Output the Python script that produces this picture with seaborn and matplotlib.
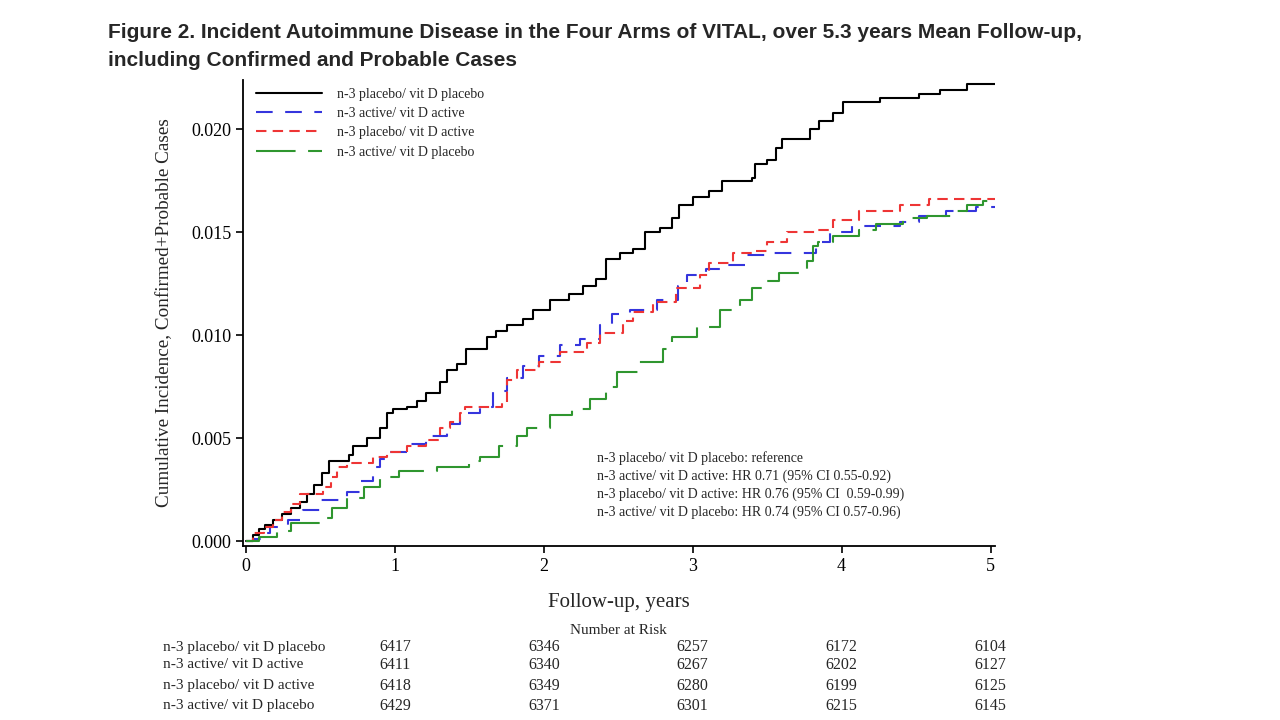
import matplotlib
matplotlib.use("Agg")
import matplotlib.pyplot as plt
import matplotlib.transforms as mtransforms
import pandas as pd
import seaborn as sns

# step points (time in years, cumulative incidence after the step)
t_pp = [0, 0.05, 0.09, 0.13, 0.18, 0.24, 0.30, 0.36, 0.41, 0.46, 0.51, 0.56, 0.69, 0.72, 0.81, 0.90,
        0.95, 0.99, 1.08, 1.15, 1.21, 1.30, 1.35, 1.42, 1.48, 1.62, 1.68, 1.75, 1.86, 1.93, 2.04, 2.17,
        2.26, 2.35, 2.42, 2.51, 2.60, 2.68, 2.78, 2.86, 2.91, 3.00, 3.11, 3.20, 3.40, 3.42, 3.50, 3.56,
        3.60, 3.79, 3.85, 3.94, 4.01, 4.26, 4.52, 4.66, 4.84, 5.03]
y_pp = [0, 0.0003, 0.0006, 0.0008, 0.0010, 0.0013, 0.0016, 0.0019, 0.0023, 0.0027, 0.0033, 0.0039, 0.0042,
        0.0046, 0.0050, 0.0055, 0.0062, 0.0064, 0.0065, 0.0068, 0.0072, 0.0077, 0.0083, 0.0086, 0.0093,
        0.0099, 0.0102, 0.0105, 0.0108, 0.0112, 0.0117, 0.0120, 0.0124, 0.0127, 0.0137, 0.0140, 0.0142,
        0.0150, 0.0152, 0.0157, 0.0163, 0.0167, 0.0170, 0.0175, 0.0176, 0.0183, 0.0185, 0.0191, 0.0195,
        0.0200, 0.0204, 0.0208, 0.0213, 0.0215, 0.0217, 0.0219, 0.0222, 0.0222]

t_aa = [0, 0.05, 0.10, 0.16, 0.28, 0.38, 0.50, 0.68, 0.77, 0.85, 0.90, 0.97, 1.08, 1.21, 1.35, 1.44,
        1.57, 1.66, 1.75, 1.86, 1.97, 2.11, 2.24, 2.38, 2.46, 2.58, 2.76, 2.90, 2.96, 3.09, 3.23, 3.35,
        3.50, 3.83, 3.92, 4.07, 4.39, 4.52, 4.70, 4.90, 5.03]
y_aa = [0, 0.0001, 0.0004, 0.0007, 0.0010, 0.0015, 0.0020, 0.0024, 0.0029, 0.0036, 0.0040, 0.0043,
        0.0047, 0.0051, 0.0057, 0.0062, 0.0065, 0.0073, 0.0079, 0.0085, 0.0090, 0.0095, 0.0098, 0.0105,
        0.0110, 0.0112, 0.0117, 0.0124, 0.0129, 0.0132, 0.0134, 0.0139, 0.0140, 0.0145, 0.0150, 0.0153,
        0.0155, 0.0158, 0.0160, 0.0162, 0.0162]

t_pa = [0, 0.05, 0.12, 0.18, 0.24, 0.30, 0.36, 0.52, 0.57, 0.61, 0.68, 0.85, 0.95, 1.08, 1.21, 1.30,
        1.37, 1.44, 1.47, 1.72, 1.75, 1.82, 1.97, 2.11, 2.29, 2.38, 2.53, 2.60, 2.73, 2.89, 3.05, 3.11,
        3.27, 3.40, 3.50, 3.63, 3.83, 3.94, 4.12, 4.39, 4.59, 5.03]
y_pa = [0, 0.0004, 0.0007, 0.0010, 0.0014, 0.0018, 0.0023, 0.0026, 0.0031, 0.0036, 0.0038, 0.0041,
        0.0043, 0.0046, 0.0049, 0.0055, 0.0058, 0.0062, 0.0065, 0.0067, 0.0078, 0.0083, 0.0087, 0.0092,
        0.0096, 0.0101, 0.0107, 0.0111, 0.0116, 0.0123, 0.0129, 0.0135, 0.0140, 0.0141, 0.0145, 0.0150,
        0.0151, 0.0156, 0.0160, 0.0163, 0.0166, 0.0166]

t_ap = [0, 0.09, 0.21, 0.30, 0.50, 0.58, 0.68, 0.79, 0.90, 1.03, 1.28, 1.50, 1.57, 1.70, 1.82, 1.89,
        2.04, 2.19, 2.31, 2.42, 2.49, 2.64, 2.80, 2.86, 3.03, 3.18, 3.32, 3.40, 3.50, 3.58, 3.77, 3.81,
        3.84, 3.94, 4.12, 4.23, 4.41, 4.57, 4.74, 4.84, 4.95, 5.03]
y_ap = [0, 0.0002, 0.0005, 0.0009, 0.0011, 0.0016, 0.0021, 0.0026, 0.0031, 0.0034, 0.0036, 0.0039,
        0.0041, 0.0046, 0.0051, 0.0055, 0.0061, 0.0064, 0.0069, 0.0075, 0.0082, 0.0087, 0.0093, 0.0099,
        0.0104, 0.0112, 0.0117, 0.0123, 0.0126, 0.0130, 0.0136, 0.0143, 0.0145, 0.0148, 0.0151, 0.0154,
        0.0157, 0.0158, 0.0160, 0.0163, 0.0165, 0.0165]

arms = ["n-3 placebo/ vit D placebo", "n-3 active/ vit D active",
        "n-3 placebo/ vit D active", "n-3 active/ vit D placebo"]
hr_text = ["n-3 placebo/ vit D placebo: reference",
           "n-3 active/ vit D active: HR 0.71 (95% CI 0.55-0.92)",
           "n-3 placebo/ vit D active: HR 0.76 (95% CI  0.59-0.99)",
           "n-3 active/ vit D placebo: HR 0.74 (95% CI 0.57-0.96)"]
risk_years = [1, 2, 3, 4, 5]
risk_pp = [6417, 6346, 6257, 6172, 6104]
risk_aa = [6411, 6340, 6267, 6202, 6127]
risk_pa = [6418, 6349, 6280, 6199, 6125]
risk_ap = [6429, 6371, 6301, 6215, 6145]

sns.set_style("ticks")
plt.rcParams["font.family"] = ["Liberation Serif", "DejaVu Serif"]

fig = plt.figure(figsize=(12.8, 7.2), dpi=100)
ax = fig.add_axes([243 / 1280, 1 - 546 / 720, 752 / 1280, 466 / 720])

series = [(t_pp, y_pp, "black", "-"),
          (t_aa, y_aa, "#3535dd", (0, (8, 6))),
          (t_pa, y_pa, "#ee3535", (0, (5, 3))),
          (t_ap, y_ap, "#2f962f", (0, (19, 6)))]

for name, (t, y, col, ls) in zip(arms, series):
    df = pd.DataFrame({"t": t, "y": y})
    sns.lineplot(data=df, x="t", y="y", ax=ax, color=col, linestyle=ls, linewidth=1.5,
                 drawstyle="steps-post", estimator=None, label=name)

ax.set_xlim(-0.02, 5.03)
ax.set_ylim(-0.00024, 0.02238)
ax.set_xticks([0, 1, 2, 3, 4, 5])
ax.set_yticks([0, 0.005, 0.010, 0.015, 0.020])
ax.yaxis.set_major_formatter(matplotlib.ticker.FormatStrFormatter("%.3f"))
ax.tick_params(labelsize=13, direction="out", length=5, width=1.2, colors="black")
for s in ["top", "right"]:
    ax.spines[s].set_visible(False)
for s in ["left", "bottom"]:
    ax.spines[s].set_linewidth(1.3)
    ax.spines[s].set_color("black")

ax.set_xlabel("Follow-up, years", fontsize=15, labelpad=13)
ax.set_ylabel("Cumulative Incidence, Confirmed+Probable Cases", fontsize=13.8, labelpad=13)

ax.legend(loc="upper left", bbox_to_anchor=(0.0, 1.01), frameon=False, fontsize=10,
          handlelength=4.8, handletextpad=1.1, labelspacing=0.45)

for i, line in enumerate(hr_text):
    fig.text(597 / 1280, 1 - (458 + 18 * i) / 720, line, fontsize=10, va="center", ha="left")

# number at risk table
fig.text(618 / 1280, 1 - 630 / 720, "Number at Risk", fontsize=11, ha="center", va="center")
trans = mtransforms.blended_transform_factory(ax.transData, fig.transFigure)
row_y = [647, 665, 686, 706]
for name, counts, ry in zip(arms, [risk_pp, risk_aa, risk_pa, risk_ap], row_y):
    fig.text(163 / 1280, 1 - ry / 720, name, fontsize=11, ha="left", va="center")
    for yr, n in zip(risk_years, counts):
        ax.text(yr, 1 - ry / 720, str(n), transform=trans, fontsize=11.5,
                ha="center", va="center", clip_on=False)

title_font = ["Liberation Sans", "DejaVu Sans"]
fig.text(108 / 1280, 1 - 33 / 720,
         "Figure 2. Incident Autoimmune Disease in the Four Arms of VITAL, over 5.3 years Mean Follow-up,",
         fontsize=15, fontweight="bold", family=title_font, va="center")
fig.text(108 / 1280, 1 - 61 / 720, "including Confirmed and Probable Cases",
         fontsize=15, fontweight="bold", family=title_font, va="center")

fig.savefig("out.png", dpi=100)
